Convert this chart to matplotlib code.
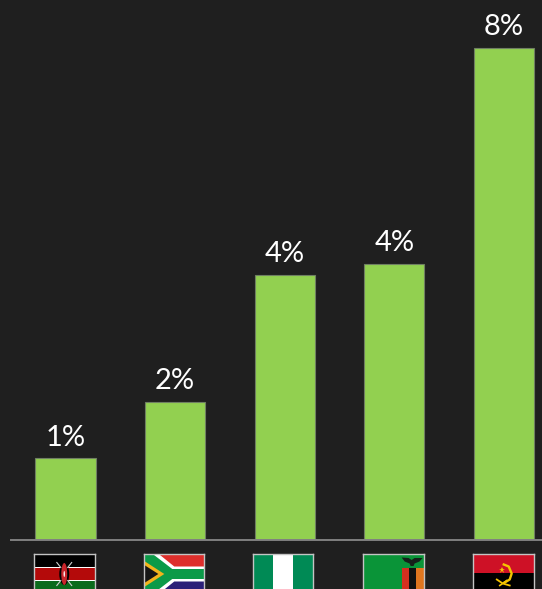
import matplotlib
matplotlib.use("Agg")
import matplotlib.pyplot as plt
from matplotlib.patches import Polygon, Rectangle, Ellipse

# Share values per country, in percent
countries = ["Kenya", "South Africa", "Nigeria", "Zambia", "Angola"]
shares = [1.33, 2.25, 4.31, 4.49, 8.0]

W, H = 542, 589
BG = "#1f1f1f"
BAR = "#92d050"

fig = plt.figure(figsize=(W / 100, H / 100), dpi=100, facecolor=BG)

ax = fig.add_axes([11 / W, (H - 540) / H, (W - 11) / W, 540 / H])
ax.set_facecolor(BG)
positions = list(range(len(countries)))
bars = ax.bar(positions, shares, width=0.55, color=BAR,
              edgecolor="#6f7f62", linewidth=0.8, zorder=2)
ax.set_xlim(-0.497, 4.348)
ax.set_ylim(0, 8.78)
for rect_, v in zip(bars, shares):
    ax.annotate(f"{v:.0f}%", (rect_.get_x() + rect_.get_width() / 2, v),
                xytext=(0, 5.5), textcoords="offset points", ha="center", va="bottom",
                color="white", fontsize=21, family="Lato")
for side in ("top", "left", "right"):
    ax.spines[side].set_visible(False)
ax.spines["bottom"].set_color("#808080")
ax.spines["bottom"].set_linewidth(1.4)
ax.set_xticks([])
ax.set_yticks([])


def rect(a, x, y, w, h, c):
    a.add_patch(Rectangle((x, y), w, h, facecolor=c, edgecolor="none"))


def poly(a, pts, c):
    a.add_patch(Polygon(pts, closed=True, facecolor=c, edgecolor="none"))


def kenya(a):
    rect(a, 0, 0, 61, 13, "#000000")
    rect(a, 0, 13, 61, 14.5, "#ffffff")
    rect(a, 0, 14.5, 61, 11.5, "#b40a0a")
    rect(a, 0, 27.5, 61, 14, "#0b6b1c")
    # Spear tips showing past the shield
    for x0, y0, x1, y1 in [(23, 9, 27, 14), (38, 9, 34, 14), (23, 32, 27, 27), (38, 32, 34, 27)]:
        a.plot([x0, x1], [y0, y1], color="#cfcfcf", lw=0.8)
    a.add_patch(Ellipse((30.5, 20.5), 10, 22, facecolor="#000000", edgecolor="none"))
    a.add_patch(Ellipse((30.5, 20.5), 6, 22, facecolor="#c8252b", edgecolor="none"))
    a.add_patch(Ellipse((30.5, 20.5), 1.4, 6, facecolor="#ffffff", edgecolor="none"))


def south_africa(a):
    rect(a, 0, 0, 61, 21, "#de2e2b")
    rect(a, 0, 21, 61, 20, "#2b1f78")
    poly(a, [(0, -3), (11, -3), (31, 13), (61, 13), (61, 28), (31, 28), (11, 44), (0, 44)], "#ffffff")
    poly(a, [(0, -2), (6, -2), (29, 15.5), (61, 15.5), (61, 25.5), (29, 25.5), (6, 43), (0, 43)], "#0b9a48")
    poly(a, [(0, 7), (21, 20.5), (0, 34)], "#f2b41c")
    poly(a, [(0, 11), (15, 20.5), (0, 30)], "#161616")


def nigeria(a):
    rect(a, 0, 0, 61, 41, "#008a55")
    rect(a, 20.5, 0, 20.5, 41, "#ffffff")


def zambia(a):
    rect(a, 0, 0, 61, 41, "#0a9438")
    rect(a, 39, 14, 7.3, 27, "#d5301f")
    rect(a, 46.3, 14, 7.3, 27, "#111111")
    rect(a, 53.6, 14, 7.4, 27, "#e0761f")
    poly(a, [(39, 4), (46, 4.5), (49, 6.5), (52, 4.5), (60, 4.5), (57, 8),
             (52, 10), (51, 12.5), (48, 12.5), (47, 10), (42, 8)], "#16201a")


def angola(a):
    rect(a, 0, 0, 61, 19.5, "#ce1126")
    rect(a, 0, 19.5, 61, 22, "#000000")
    th = [(31, 11), (36, 13), (39, 20), (37, 26), (32, 29)]
    a.plot([p[0] for p in th], [p[1] for p in th], color="#f5c400", lw=1.7)
    a.plot([24, 30, 37], [26, 30, 32], color="#f5c400", lw=1.3)
    a.plot([27, 34], [32, 27], color="#f5c400", lw=1.2)
    a.plot([29], [16.5], marker="*", ms=5, color="#f5c400", mew=0)


flags = [kenya, south_africa, nigeria, zambia, angola]
flag_left = [34, 143.5, 252.5, 363, 473]
flag_w, flag_h = 60.5, 41
flag_top = 553.5

# Flags sit under the axis line, running off the lower edge of the figure
for draw, left in zip(flags, flag_left):
    fa = fig.add_axes([left / W, (H - flag_top - flag_h) / H, flag_w / W, flag_h / H])
    fa.set_xlim(0, 61)
    fa.set_ylim(flag_h, 0)
    fa.set_xticks([])
    fa.set_yticks([])
    draw(fa)
    for s in fa.spines.values():
        s.set_color("#c4c4c4")
        s.set_linewidth(1.0)

fig.savefig("out.png", dpi=100, facecolor=BG)
